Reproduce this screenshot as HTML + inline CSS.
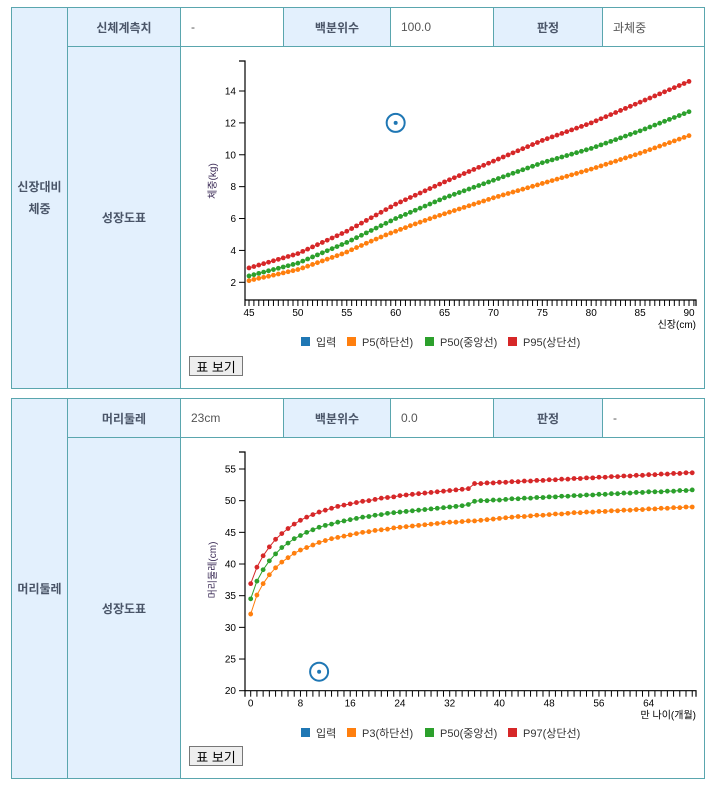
<!DOCTYPE html>
<html><head><meta charset="utf-8">
<style>
body{margin:0;width:713px;height:786px;background:#fff;font-family:"Liberation Sans","Noto Sans CJK KR",sans-serif;position:relative;overflow:hidden}
.c{position:absolute;box-sizing:border-box;border:1px solid #5aa6ae;display:flex;align-items:center;font-size:12px;color:#555}
.h{background:#e3f0fd;justify-content:center;font-weight:bold;color:#4a5568}
.v{background:#fff;padding-left:10px}
.btn{position:absolute;width:54px;height:20px;border:1px solid #777;background:#eee;font-size:13px;display:flex;align-items:center;justify-content:center;box-sizing:border-box;color:#000}
svg{position:absolute;left:0;top:0}
</style></head><body>
<div class="c h" style="left:11px;top:7px;width:57px;height:382px;text-align:center;line-height:22px">신장대비<br>체중</div>
<div class="c h" style="left:67px;top:7px;width:114px;height:40px">신체계측치</div>
<div class="c v" style="left:180px;top:7px;width:104px;height:40px">-</div>
<div class="c h" style="left:283px;top:7px;width:108px;height:40px">백분위수</div>
<div class="c v" style="left:390px;top:7px;width:104px;height:40px">100.0</div>
<div class="c h" style="left:493px;top:7px;width:110px;height:40px">판정</div>
<div class="c v" style="left:602px;top:7px;width:103px;height:40px">과체중</div>
<div class="c h" style="left:67px;top:46px;width:114px;height:343px">성장도표</div>
<div class="c v" style="left:180px;top:46px;width:525px;height:343px"></div>

<div class="c h" style="left:11px;top:398px;width:57px;height:381px">머리둘레</div>
<div class="c h" style="left:67px;top:398px;width:114px;height:40px">머리둘레</div>
<div class="c v" style="left:180px;top:398px;width:104px;height:40px">23cm</div>
<div class="c h" style="left:283px;top:398px;width:108px;height:40px">백분위수</div>
<div class="c v" style="left:390px;top:398px;width:104px;height:40px">0.0</div>
<div class="c h" style="left:493px;top:398px;width:110px;height:40px">판정</div>
<div class="c v" style="left:602px;top:398px;width:103px;height:40px">-</div>
<div class="c h" style="left:67px;top:437px;width:114px;height:342px">성장도표</div>
<div class="c v" style="left:180px;top:437px;width:525px;height:342px"></div>

<svg id="s" width="713" height="786"></svg>
<div class="btn" style="left:189px;top:356px">표 보기</div>
<div class="btn" style="left:189px;top:746px">표 보기</div>

<script>
const wX0 = 45, wStep = 0.5;
const wP5 = [2.10,2.18,2.25,2.31,2.38,2.45,2.52,2.59,2.66,2.73,2.80,2.90,3.01,3.12,3.23,3.34,3.45,3.56,3.67,3.78,3.90,4.04,4.18,4.31,4.45,4.58,4.71,4.84,4.97,5.09,5.20,5.32,5.43,5.55,5.66,5.77,5.88,5.99,6.10,6.20,6.30,6.40,6.50,6.60,6.70,6.80,6.90,7.00,7.10,7.20,7.30,7.39,7.48,7.57,7.66,7.75,7.84,7.93,8.02,8.11,8.20,8.29,8.38,8.47,8.56,8.65,8.74,8.83,8.92,9.01,9.10,9.20,9.30,9.40,9.50,9.60,9.70,9.80,9.90,10.00,10.10,10.21,10.32,10.43,10.54,10.65,10.76,10.87,10.98,11.09,11.20];
const wP50 = [2.40,2.48,2.56,2.64,2.72,2.80,2.88,2.96,3.04,3.12,3.20,3.33,3.46,3.59,3.72,3.85,3.98,4.11,4.24,4.37,4.50,4.65,4.80,4.95,5.10,5.25,5.40,5.55,5.70,5.85,6.00,6.13,6.26,6.39,6.52,6.65,6.78,6.91,7.04,7.17,7.30,7.41,7.52,7.63,7.74,7.85,7.96,8.07,8.18,8.29,8.40,8.51,8.62,8.73,8.84,8.95,9.06,9.17,9.28,9.39,9.50,9.59,9.68,9.77,9.86,9.95,10.04,10.13,10.22,10.31,10.40,10.51,10.62,10.73,10.84,10.95,11.06,11.17,11.28,11.39,11.50,11.62,11.74,11.86,11.98,12.10,12.22,12.34,12.46,12.58,12.70];
const wP95 = [2.90,2.99,3.08,3.17,3.26,3.35,3.44,3.53,3.62,3.71,3.80,3.94,4.08,4.22,4.36,4.50,4.64,4.78,4.92,5.06,5.20,5.37,5.54,5.71,5.88,6.05,6.22,6.39,6.56,6.73,6.90,7.04,7.18,7.32,7.46,7.60,7.74,7.88,8.02,8.16,8.30,8.43,8.56,8.69,8.82,8.95,9.08,9.21,9.34,9.47,9.60,9.73,9.86,9.99,10.12,10.25,10.38,10.51,10.64,10.77,10.90,11.01,11.12,11.23,11.34,11.45,11.56,11.67,11.78,11.89,12.00,12.13,12.26,12.39,12.52,12.65,12.78,12.91,13.04,13.17,13.30,13.43,13.56,13.69,13.82,13.95,14.08,14.21,14.34,14.47,14.60];
const wInput = [60, 12];
const wYTicks = [2,4,6,8,10,12,14];
const wXTicks = [45,50,55,60,65,70,75,80,85,90];
const wLegend = ["입력","P5(하단선)","P50(중앙선)","P95(상단선)"];

const hP3 = [32.1,35.1,36.9,38.3,39.4,40.3,41.0,41.7,42.2,42.6,43.0,43.4,43.7,44.0,44.2,44.4,44.6,44.8,45.0,45.1,45.3,45.4,45.5,45.7,45.8,45.9,46.0,46.1,46.2,46.3,46.4,46.5,46.6,46.6,46.7,46.8,46.8,46.9,47.0,47.1,47.2,47.3,47.4,47.5,47.5,47.6,47.7,47.7,47.8,47.9,47.9,48.0,48.1,48.1,48.2,48.2,48.3,48.3,48.4,48.4,48.5,48.5,48.6,48.6,48.7,48.7,48.8,48.8,48.9,48.9,49.0,49.0];
const hP50 = [34.5,37.3,39.1,40.5,41.6,42.6,43.3,44.0,44.5,45.0,45.4,45.8,46.1,46.3,46.6,46.8,47.0,47.2,47.4,47.5,47.7,47.8,48.0,48.1,48.2,48.3,48.4,48.5,48.6,48.7,48.8,48.9,49.0,49.1,49.2,49.4,49.9,50.0,50.0,50.1,50.1,50.2,50.3,50.3,50.4,50.4,50.5,50.5,50.6,50.6,50.7,50.7,50.8,50.8,50.9,50.9,51.0,51.0,51.1,51.1,51.2,51.2,51.3,51.3,51.4,51.4,51.4,51.5,51.5,51.6,51.6,51.7];
const hP97 = [36.9,39.5,41.3,42.7,43.9,44.8,45.6,46.3,46.9,47.4,47.8,48.2,48.5,48.8,49.1,49.3,49.5,49.7,49.9,50.0,50.2,50.4,50.5,50.6,50.8,50.9,51.0,51.1,51.2,51.3,51.4,51.5,51.6,51.7,51.8,51.9,52.7,52.7,52.8,52.8,52.9,52.9,53.0,53.0,53.1,53.1,53.2,53.2,53.3,53.3,53.4,53.4,53.5,53.5,53.6,53.6,53.7,53.7,53.8,53.8,53.9,53.9,54.0,54.0,54.1,54.1,54.2,54.2,54.3,54.3,54.4,54.4];
const hInput = [11, 23];
const hYTicks = [20,25,30,35,40,45,50,55];
const hXTicks = [0,8,16,24,32,40,48,56,64];
const hLegend = ["입력","P3(하단선)","P50(중앙선)","P97(상단선)"];

const colors = ["#1f77b4","#ff7f0e","#2ca02c","#d62728"];
const NS = "http://www.w3.org/2000/svg";
const svg = document.getElementById('s');
function mk(tag, attrs, parent){const e=document.createElementNS(NS,tag);for(const k in attrs)e.setAttribute(k,attrs[k]);(parent||svg).appendChild(e);return e;}
function txt(x,y,s,attrs,parent){const t=mk('text',Object.assign({x:x,y:y},attrs),parent);t.textContent=s;return t;}

function chart(cfg){
  const g = mk('g',{});
  
  
  const X = v => cfg.x0px + (v - cfg.xd0) * (cfg.x1px - cfg.x0px) / (cfg.xd1 - cfg.xd0);
  const Y = v => cfg.y0px + (v - cfg.yd0) * (cfg.y1px - cfg.y0px) / (cfg.yd1 - cfg.yd0);
  const L = cfg.left, R = cfg.right, T = cfg.top, B = cfg.bottom;
  // axes
  const ya = mk('path',{d:`M${L-6},${T}H${L}V${B}`,stroke:'#000',fill:'none','stroke-width':1.2},g);
  
  
  const xa = mk('path',{d:`M${L},${B+6}V${B}H${R}V${B+6}`,stroke:'#000',fill:'none','stroke-width':1.2},g);
  
  
  cfg.yTicks.forEach(v=>{
    mk('line',{x1:L-6,x2:L,y1:Y(v),y2:Y(v),stroke:'#000'},g);
    const t = txt(L-9,Y(v)+3.5,String(v),{'font-size':10,'text-anchor':'end',fill:'#000'},g);
    
    
  });
  for(let v=cfg.xd0; X(v)<=R+0.5; v+=cfg.minor){
    mk('line',{x1:X(v),x2:X(v),y1:B,y2:B+6,stroke:'#000','stroke-width':1},g);
  }
  cfg.xTicks.forEach(v=>{
    const t = txt(X(v),B+16,String(v),{'font-size':10,'text-anchor':'middle',fill:'#000'},g);
    
    
  });
  const xt = txt(R,B+28,cfg.xTitle,{'font-size':10,'text-anchor':'end',fill:'#000'},g);
  
  
  const yt = txt(0,0,cfg.yTitle,{'font-size':10,'text-anchor':'middle',fill:'#3a2a55',transform:`translate(${L-29},${cfg.yTitleY}) rotate(-90)`},g);
  
  
  // series
  cfg.series.forEach((s,i)=>{
    const sg = mk('g',{},g);
    
    
    const c = colors[i+1];
    const pts = s.map((v,k)=>[X(cfg.xd0 + k*cfg.step), Y(v)]);
    mk('polyline',{points:pts.map(p=>p.join(',')).join(' '),fill:'none',stroke:c,'stroke-width':1},sg);
    pts.forEach(p=>{
      const d = mk('circle',{cx:p[0],cy:p[1],r:2.4,fill:c},sg);
      
      
    });
  });
  const ig = mk('g',{},g);
  
  
  mk('circle',{cx:X(cfg.input[0]),cy:Y(cfg.input[1]),r:9,fill:'none',stroke:colors[0],'stroke-width':2},ig);
  mk('circle',{cx:X(cfg.input[0]),cy:Y(cfg.input[1]),r:2,fill:colors[0]},ig);
  // legend
  const lx = [301,347,425,508];
  cfg.legend.forEach((s,i)=>{
    const lg = mk('g',{},g);
    
    
    mk('rect',{x:lx[i],y:cfg.legendY-5,width:9,height:9,fill:colors[i]},lg);
    txt(lx[i]+15,cfg.legendY+4,s,{'font-size':11,fill:'#333'},lg);
  });
}

chart({name:'weight-for-height-chart',xd0:45,xd1:90,x0px:249,x1px:689,yd0:2,yd1:14,y0px:282.3,y1px:91,
  left:245,right:696,top:61,bottom:300,minor:0.5,step:wStep,yTicks:wYTicks,xTicks:wXTicks,
  xTitle:'신장(cm)',yTitle:'체중(kg)',yTitleY:181,series:[wP5,wP50,wP95],input:wInput,legend:wLegend,legendY:342});
chart({name:'head-circumference-chart',xd0:0,xd1:64,x0px:250.7,x1px:648.7,yd0:20,yd1:55,y0px:690.7,y1px:469,
  left:245,right:696,top:452,bottom:690.7,minor:1,step:1,yTicks:hYTicks,xTicks:hXTicks,
  xTitle:'만 나이(개월)',yTitle:'머리둘레(cm)',yTitleY:570,series:[hP3,hP50,hP97],input:hInput,legend:hLegend,legendY:733});
</script>
</body></html>
